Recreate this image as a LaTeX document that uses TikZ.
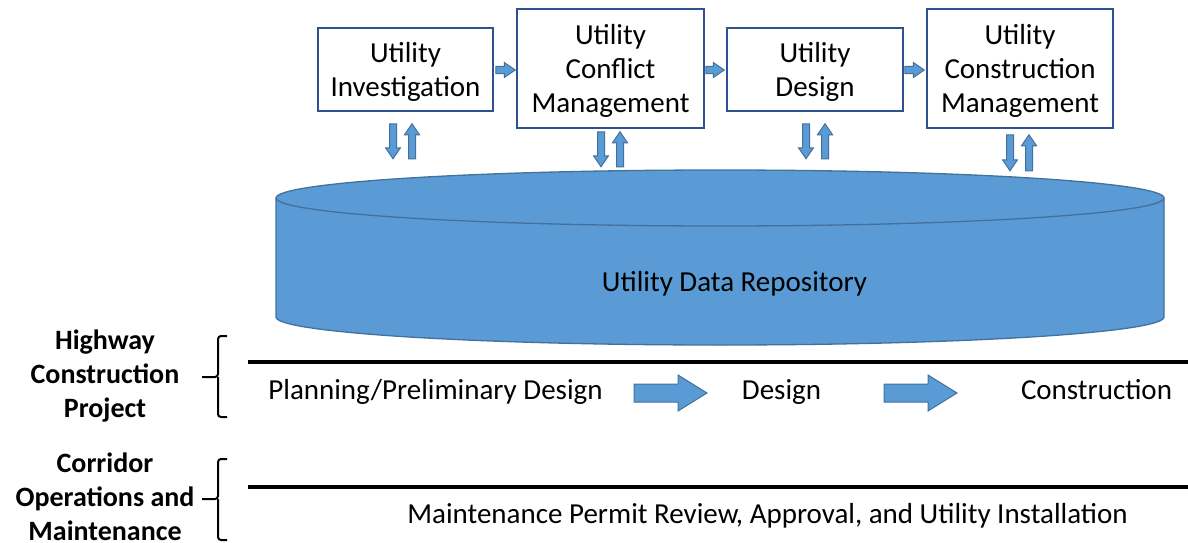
\documentclass[tikz,border=0pt]{standalone}
\usepackage{fontspec}
\setmainfont{Carlito}
\usetikzlibrary{calc}

\definecolor{boxline}{HTML}{2F528F}
\definecolor{shapefill}{HTML}{5B9BD5}
\definecolor{shapeline}{HTML}{41719C}

\tikzset{
  bigfont/.style={font=\fontsize{29}{34}\selectfont},
  ubox/.style={bigfont, draw=boxline, line width=1.5pt, fill=white,
               inner sep=0pt, align=center, text depth=0pt},
  txt/.style={bigfont, inner sep=0pt, anchor=base},
  sidetxt/.style={font=\fontsize{28}{34}\selectfont\bfseries,
                  inner sep=0pt, align=center},
  fat/.style={fill=shapefill, draw=shapeline, line width=1pt, line join=miter},
  repo/.style={fill=shapefill, draw=shapeline, line width=1.3pt},
  rule/.style={draw=black, line width=4pt},
  brace/.style={draw=black, line width=2pt, rounded corners=3pt},
}

% block arrow: from, to, half shaft width, half head width, head length
\newcommand{\fatarrow}[5]{%
  \coordinate (fa-s) at #1;
  \coordinate (fa-e) at #2;
  \coordinate (fa-c) at ($(fa-e)!#5!(fa-s)$);
  \draw[fat] ($(fa-s)!#3!90:(fa-e)$) -- ($(fa-c)!#3!-90:(fa-s)$)
    -- ($(fa-c)!#4!-90:(fa-s)$) -- (fa-e) -- ($(fa-c)!#4!90:(fa-s)$)
    -- ($(fa-c)!#3!90:(fa-s)$) -- ($(fa-s)!#3!-90:(fa-e)$) -- cycle;
}
\newcommand{\thinarrow}[2]{\fatarrow{#1}{#2}{3.5pt}{7.5pt}{11pt}}

\begin{document}
\begin{tikzpicture}[x=1pt, y=-1pt]
\useasboundingbox (0,0) rectangle (1188,543);

% utility repository drum
\path[repo] (276,198) -- (276,317)
  .. controls (276,332.46) and (474.8,345) .. (720,345)
  .. controls (965.2,345) and (1164,332.46) .. (1164,317)
  -- (1164,198)
  .. controls (1164,182.54) and (965.2,170) .. (720,170)
  .. controls (474.8,170) and (276,182.54) .. (276,198) -- cycle;
\draw[draw=shapeline, line width=1.3pt] (276,198)
  .. controls (276,213.46) and (474.8,226) .. (720,226)
  .. controls (965.2,226) and (1164,213.46) .. (1164,198);
\node[txt] (repotxt) at (734.5,291) {Utility Data Repository};

% process boxes
\node[ubox, minimum width=175pt, minimum height=83pt]  (inv)  at (405.5,69.5) {Utility\\Investigation};
\node[ubox, minimum width=187pt, minimum height=119pt] (conf) at (610.5,68.5) {Utility\\Conflict\\Management};
\node[ubox, minimum width=176pt, minimum height=83pt]  (des)  at (815,69.5)   {Utility\\Design};
\node[ubox, minimum width=186pt, minimum height=119pt] (cons) at (1020,68.5)  {Utility\\Construction\\Management};

% flow between boxes
\thinarrow{($(inv.east)+(2,0.5)$)}{($(conf.west)+(-1,1.5)$)}
\thinarrow{($(conf.east)+(1,1.5)$)}{($(des.west)+(-2,0.5)$)}
\thinarrow{($(des.east)+(1,0.5)$)}{($(cons.west)+(-2,1.5)$)}

% exchange with the repository
\thinarrow{($(inv.south)+(-12.5,12)$)}{($(inv.south)+(-12.5,47)$)}
\thinarrow{($(inv.south)+(6.5,47)$)}{($(inv.south)+(6.5,12)$)}
\thinarrow{($(conf.south)+(-9.5,3)$)}{($(conf.south)+(-9.5,38)$)}
\thinarrow{($(conf.south)+(9.5,38)$)}{($(conf.south)+(9.5,3)$)}
\thinarrow{($(des.south)+(-9,12)$)}{($(des.south)+(-9,47)$)}
\thinarrow{($(des.south)+(10,47)$)}{($(des.south)+(10,12)$)}
\thinarrow{($(cons.south)+(-10,6)$)}{($(cons.south)+(-10,42)$)}
\thinarrow{($(cons.south)+(9,42)$)}{($(cons.south)+(9,6)$)}

% project phases
\draw[rule] (248,362) -- (1188,362);
\node[txt] (plan)  at (435.5,399)  {Planning/Preliminary Design};
\node[txt] (pdes)  at (781.5,399)  {Design};
\node[txt] (pcons) at (1096.5,399) {Construction};
\coordinate (a1s) at (634,393); \coordinate (a1e) at (707,393);
\coordinate (a2s) at (884,393); \coordinate (a2e) at (957,393);
\fatarrow{(a1s)}{(a1e)}{9pt}{18pt}{29pt}
\fatarrow{(a2s)}{(a2e)}{9pt}{18pt}{29pt}

% maintenance
\draw[rule] (248,487) -- (1188,487);
\node[txt] (maint) at (767.5,523) {Maintenance Permit Review, Approval, and Utility Installation};

% side labels and braces
\node[sidetxt] (hcp) at (105,376) {Highway\\Construction\\Project};
\node[sidetxt] (com) at (105,496.5) {Corridor\\Operations and\\Maintenance};
\draw[brace] (227,336) -- (218,336) -- (218,377) -- (202,377);
\draw[brace] (218,377) -- (218,417) -- (227,417);
\draw[brace] (227,459) -- (218,459) -- (218,499) -- (202,499);
\draw[brace] (218,499) -- (218,540) -- (227,540);
\end{tikzpicture}
\end{document}
